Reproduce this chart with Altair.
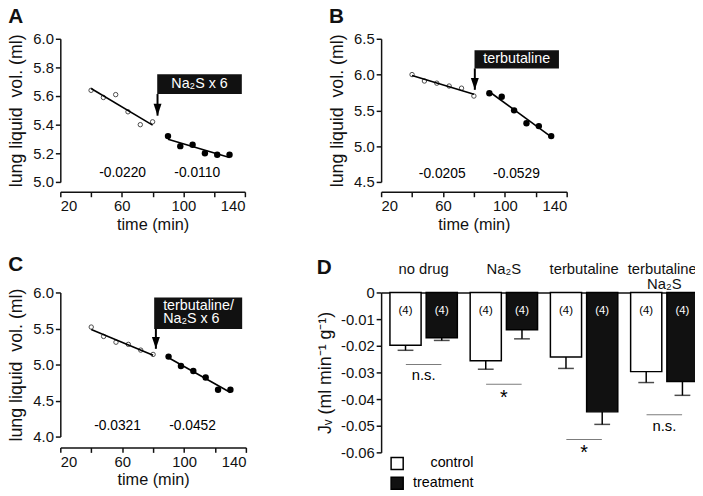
import altair as alt
import pandas as pd

FONT = "Liberation Sans"

# ---------------- data ----------------
time_before = [40, 48, 56, 64, 72, 80]
time_after = [90, 98, 106, 114, 122, 130]

a_before = [5.64, 5.59, 5.61, 5.49, 5.40, 5.42]
a_after = [5.32, 5.25, 5.26, 5.20, 5.19, 5.19]
b_before = [6.00, 5.91, 5.88, 5.84, 5.81, 5.70]
b_after = [5.74, 5.69, 5.50, 5.32, 5.28, 5.14]
c_before = [5.52, 5.39, 5.31, 5.28, 5.20, 5.14]
c_after = [5.11, 4.98, 4.91, 4.82, 4.65, 4.65]

slopes_a = ["-0.0220", "-0.0110"]
slopes_b = ["-0.0205", "-0.0529"]
slopes_c = ["-0.0321", "-0.0452"]

time_ticks = [20, 40, 60, 80, 100, 120, 140]
a_ticks = [5.0, 5.2, 5.4, 5.6, 5.8, 6.0]
b_ticks = [4.5, 5.0, 5.5, 6.0, 6.5]
c_ticks = [4.0, 4.5, 5.0, 5.5, 6.0]

groups = ["no drug", "Na₂S", "terbutaline", "terbutaline/|Na₂S"]
conditions = ["control", "treatment"]
jv_control = [-0.0198, -0.0256, -0.0242, -0.0297]
jv_treatment = [-0.0170, -0.0140, -0.0448, -0.0334]
sem_control = [0.0019, 0.0032, 0.0043, 0.0041]
sem_treatment = [0.0010, 0.0034, 0.0047, 0.0052]
n_animals = [4, 4, 4, 4]
significance = ["n.s.", "*", "*", "n.s."]
sig_level = [-0.0270, -0.0344, -0.0552, -0.0459]
jv_ticks = [0, -0.01, -0.02, -0.03, -0.04, -0.05, -0.06]

ARROW = "M-0.67,-2L0.67,-2L0,0Z"
Y_TITLE = "lung liquid\u00a0 vol. (ml)"


def time_panel(letter, before, after, ydom, yticks, slopes, ann, width, height, xoff, toff):
    pts = pd.DataFrame({
        "t": time_before + time_after,
        "v": before + after,
        "phase": ["before"] * len(before) + ["after"] * len(after),
    })
    xs = alt.X("t:Q", scale=alt.Scale(domain=[20, 140], nice=False),
               axis=alt.Axis(values=time_ticks, title="time (min)", offset=xoff,
                             format="d", titlePadding=3, titleFontSize=16.5))
    ys = alt.Y("v:Q", scale=alt.Scale(domain=ydom, nice=False, zero=False),
               axis=alt.Axis(values=yticks, format=".1f", title=Y_TITLE,
                             titlePadding=7, titleFontSize=18))
    base = alt.Chart(pts)
    open_pts = base.transform_filter("datum.phase == 'before'").mark_point(
        shape="circle", filled=False, size=20, stroke="black", strokeWidth=1
    ).encode(x=xs, y=ys)
    filled_pts = base.transform_filter("datum.phase == 'after'").mark_circle(
        size=42, color="black", opacity=1
    ).encode(x=xs, y=ys)
    fit = base.transform_regression("t", "v", groupby=["phase"]).mark_line(
        color="black", strokeWidth=1.6
    ).encode(x=xs, y=ys, detail="phase:N")

    slope_df = pd.DataFrame({"t": ann["slope_t"], "v": [ann["slope_v"]] * 2, "label": slopes})
    slope_txt = alt.Chart(slope_df).mark_text(fontSize=14, color="black").encode(
        x=xs, y=ys, text="label:N")

    box_df = pd.DataFrame({"t": [ann["box"][0]], "t2": [ann["box"][1]],
                           "v": [ann["box"][2]], "v2": [ann["box"][3]]})
    box = alt.Chart(box_df).mark_rect(color="#111").encode(
        x=xs, x2="t2:Q", y=ys, y2="v2:Q")

    txt_df = pd.DataFrame({"t": [ann["text_t"]], "v": [ann["text_v"]], "label": [ann["text"]]})
    box_txt = alt.Chart(txt_df).mark_text(
        fontSize=14.5, color="white", align=ann["align"], lineBreak="|", lineHeight=13.5
    ).encode(x=xs, y=ys, text="label:N")

    arr_df = pd.DataFrame({"t": [ann["arrow_t"]], "v": [ann["box"][2]], "v2": [ann["tip"]]})
    arrow_line = alt.Chart(arr_df).mark_rule(color="black", strokeWidth=2).encode(
        x=xs, y=ys, y2="v2:Q")
    tip_df = pd.DataFrame({"t": [ann["arrow_t"]], "v": [ann["tip"]]})
    arrow_head = alt.Chart(tip_df).mark_point(
        shape=ARROW, size=144, filled=True, color="black", opacity=1
    ).encode(x=xs, y=ys)

    return alt.layer(fit, open_pts, filled_pts, slope_txt, box, box_txt, arrow_line, arrow_head).properties(
        width=width, height=height,
        title=alt.Title(letter, anchor="start", frame="bounds", fontSize=21,
                        fontWeight="bold", offset=toff),
    )


panel_a = time_panel(
    "A", a_before, a_after, [5.0, 6.0], a_ticks, slopes_a,
    dict(slope_t=[60.5, 109], slope_v=5.06, box=[83, 138, 5.614, 5.753],
         text_t=110.5, text_v=5.683, text="Na₂S x 6", align="center",
         arrow_t=83.2, tip=5.463),
    187, 145, 10, 5)

panel_b = time_panel(
    "B", b_before, b_after, [4.5, 6.5], b_ticks, slopes_b,
    dict(slope_t=[59.5, 107.5], slope_v=4.61, box=[80.4, 135, 6.086, 6.339],
         text_t=107.7, text_v=6.21, text="terbutaline", align="center",
         arrow_t=80.6, tip=5.787),
    188, 145, 10, 5)

panel_c = time_panel(
    "C", c_before, c_after, [4.0, 6.0], c_ticks, slopes_c,
    dict(slope_t=[57, 105.5], slope_v=4.14, box=[80.7, 137.6, 5.494, 5.931],
         text_t=86.5, text_v=5.816, text="terbutaline/|Na₂S x 6", align="left",
         arrow_t=81.8, tip=5.218),
    188, 146, 11, 11)

# ---------------- panel D ----------------
rows = []
for i, g in enumerate(groups):
    rows.append(dict(group=g, cond="control", jv=jv_control[i],
                     low=jv_control[i] - sem_control[i], n=f"({n_animals[i]})"))
    rows.append(dict(group=g, cond="treatment", jv=jv_treatment[i],
                     low=jv_treatment[i] - sem_treatment[i], n=f"({n_animals[i]})"))
dfd = pd.DataFrame(rows)
sig_df = pd.DataFrame({"group": groups, "sig": significance, "jv": sig_level})

xd = alt.X("group:N", sort=groups,
           scale=alt.Scale(paddingInner=0.16, paddingOuter=0.11),
           axis=alt.Axis(orient="top", title=None, ticks=False, labelAngle=0,
                         labelBaseline="top", labelPadding=31, labelLineHeight=15,
                         labelFontSize=15,
                         labelExpr="split(datum.label, '|')"))
xo = alt.XOffset("cond:N", sort=conditions, scale=alt.Scale(paddingInner=0.14))
y_scale_d = alt.Scale(domain=[-0.06, 0], nice=False)
y_axis_d = alt.Axis(values=jv_ticks, title="Jᵥ (ml min⁻¹ g⁻¹)", titleFontSize=18,
                    titlePadding=6, labelOverlap=False,
                    labelExpr="datum.value == 0 ? '0' : toString(round(datum.value * 100) / 100)")


def yd(field):
    return alt.Y(f"{field}:Q", stack=None, scale=y_scale_d, axis=y_axis_d)


base_d = alt.Chart(dfd).transform_calculate(label_y="-0.0069")

bars = base_d.mark_bar(stroke="black", strokeWidth=1.5).encode(
    x=xd, xOffset=xo, y=yd("jv"), y2=alt.datum(0),
    fill=alt.Fill("cond:N", sort=conditions,
                  scale=alt.Scale(domain=conditions, range=["white", "#111"]),
                  legend=alt.Legend(title=None, orient="none", legendX=9, legendY=166,
                                    symbolType="square", symbolSize=150,
                                    symbolStrokeColor="black", symbolStrokeWidth=1.5,
                                    labelFontSize=14.5, labelOffset=70, labelAlign="right",
                                    rowPadding=1, padding=0)),
)
err = base_d.mark_rule(color="black", strokeWidth=1.5).encode(
    x=xd, xOffset=xo, y=yd("jv"), y2="low:Q")
cap = base_d.mark_tick(orient="horizontal", size=16, thickness=1.5, color="black").encode(
    x=xd, xOffset=xo, y=yd("low"))
ntxt = base_d.mark_text(fontSize=11.5).encode(
    x=xd, xOffset=xo, y=yd("label_y"), text="n:N",
    color=alt.condition("datum.cond == 'treatment'", alt.value("white"), alt.value("black")))
sig_line = alt.Chart(sig_df).mark_tick(orient="horizontal", size=36, thickness=1, color="#444").encode(
    x=xd, y=yd("jv"))
sig_txt = alt.Chart(sig_df).mark_text(baseline="top", dy=4, color="black").encode(
    x=xd, y=yd("jv"), text="sig:N",
    size=alt.condition("datum.sig == '*'", alt.value(20), alt.value(15)))

panel_d = alt.layer(bars, err, cap, ntxt, sig_line, sig_txt).properties(
    width=330, height=162,
    title=alt.Title("D", anchor="start", frame="bounds", fontSize=21,
                    fontWeight="bold", offset=-16),
)

chart = alt.concat(
    panel_a, panel_b, panel_c, panel_d,
    columns=2, spacing={"row": 112, "column": 137}, bounds="flush",
).resolve_scale(fill="independent").resolve_legend(fill="independent").properties(
    padding={"left": 0, "top": -5, "right": -12, "bottom": 0}
).configure(font=FONT).configure_view(stroke=None).configure_axis(
    labelFont=FONT, titleFont=FONT, labelFontSize=15, titleFontWeight="normal",
    labelColor="#111", titleColor="#111", domainColor="#111", tickColor="#111",
    domainWidth=1.5, tickWidth=1.5, tickSize=5, labelPadding=2, grid=False,
).configure_title(font=FONT, color="#111")

chart.save("out.html", embed_options={"renderer": "svg", "actions": False})
